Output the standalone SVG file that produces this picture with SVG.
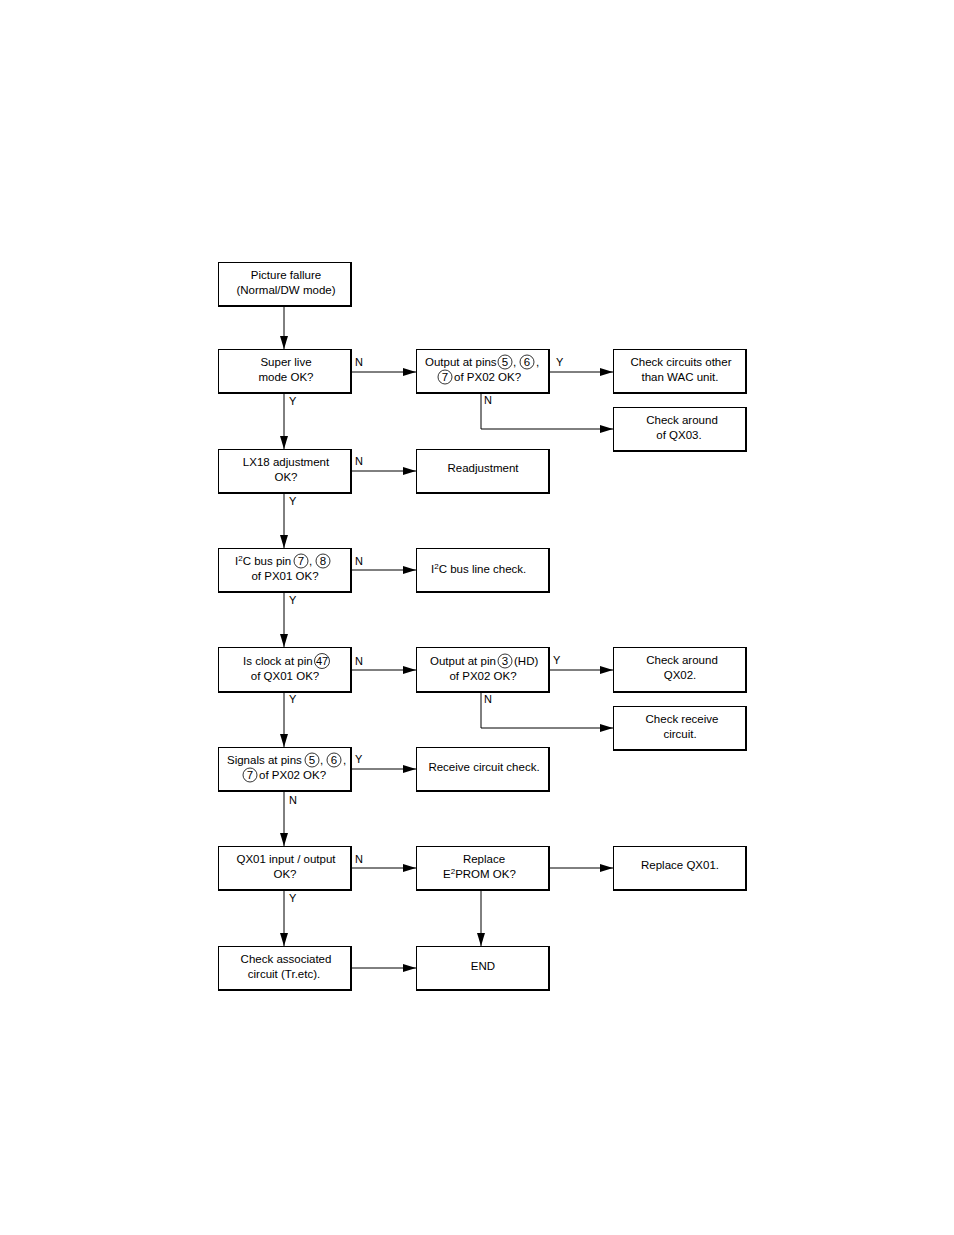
<svg xmlns="http://www.w3.org/2000/svg" width="954" height="1235" viewBox="0 0 954 1235">
<style>
text{font-family:"Liberation Sans",Arial,sans-serif;font-size:11.5px;fill:#000}
.c{text-anchor:middle}
.lb{font-size:11px}
.sp{font-size:8px}
.bx{fill:#fff;stroke:#000;stroke-width:1}
.sh{fill:none;stroke:#000;stroke-width:2}
.ci{fill:none;stroke:#000;stroke-width:0.8}
.ln{fill:none;stroke:#000;stroke-width:1}
</style>
<defs>
<marker id="ah" markerUnits="userSpaceOnUse" markerWidth="13" markerHeight="8" refX="13" refY="4" orient="auto">
<path d="M0,0 L13,4 L0,8 z" fill="#000"/>
</marker>
</defs>
<rect width="954" height="1235" fill="#fff"/>

<g id="connectors">
<path class="ln" marker-end="url(#ah)" d="M284 306 V349"/>
<path class="ln" marker-end="url(#ah)" d="M284 393 V449"/>
<path class="ln" marker-end="url(#ah)" d="M284 493 V548"/>
<path class="ln" marker-end="url(#ah)" d="M284 592 V647"/>
<path class="ln" marker-end="url(#ah)" d="M284 692 V747"/>
<path class="ln" marker-end="url(#ah)" d="M284 791 V846"/>
<path class="ln" marker-end="url(#ah)" d="M284 890 V946"/>
<path class="ln" marker-end="url(#ah)" d="M351 372 H416"/>
<path class="ln" marker-end="url(#ah)" d="M549 372 H613"/>
<path class="ln" marker-end="url(#ah)" d="M481 393 V429 H613"/>
<path class="ln" marker-end="url(#ah)" d="M351 471 H416"/>
<path class="ln" marker-end="url(#ah)" d="M351 570 H416"/>
<path class="ln" marker-end="url(#ah)" d="M351 670 H416"/>
<path class="ln" marker-end="url(#ah)" d="M549 670 H613"/>
<path class="ln" marker-end="url(#ah)" d="M481 692 V728 H613"/>
<path class="ln" marker-end="url(#ah)" d="M351 769 H416"/>
<path class="ln" marker-end="url(#ah)" d="M351 868 H416"/>
<path class="ln" marker-end="url(#ah)" d="M549 868 H613"/>
<path class="ln" marker-end="url(#ah)" d="M481 890 V946"/>
<path class="ln" marker-end="url(#ah)" d="M351 968 H416"/>
<text class="lb" x="355" y="366">N</text>
<text class="lb" x="556" y="366">Y</text>
<text class="lb" x="289" y="405">Y</text>
<text class="lb" x="484" y="404">N</text>
<text class="lb" x="355" y="465">N</text>
<text class="lb" x="289" y="505">Y</text>
<text class="lb" x="355" y="565">N</text>
<text class="lb" x="289" y="604">Y</text>
<text class="lb" x="355" y="665">N</text>
<text class="lb" x="553" y="664">Y</text>
<text class="lb" x="289" y="703">Y</text>
<text class="lb" x="484" y="703">N</text>
<text class="lb" x="355" y="763">Y</text>
<text class="lb" x="289" y="804">N</text>
<text class="lb" x="355" y="863">N</text>
<text class="lb" x="289" y="902">Y</text>
</g>

<g id="n1"><rect class="bx" x="218.5" y="262.5" width="132" height="43"/><path class="sh" d="M351 262 V306 H218"/>
<text class="c" x="286" y="279">Picture fallure</text><text class="c" x="286" y="294">(Normal/DW mode)</text></g>

<g id="n2"><rect class="bx" x="218.5" y="349.5" width="132" height="43"/><path class="sh" d="M351 349 V393 H218"/>
<text class="c" x="286" y="366">Super live</text><text class="c" x="286" y="381">mode OK?</text></g>

<g id="n3"><rect class="bx" x="416.5" y="349.5" width="132" height="43"/><path class="sh" d="M549 349 V393 H416"/>
<text x="425" y="366">Output at pins</text>
<circle class="ci" cx="505" cy="362" r="7"/><text class="c" x="505" y="366">5</text>
<text x="513" y="366">,</text>
<circle class="ci" cx="527" cy="362" r="7"/><text class="c" x="527" y="366">6</text>
<text x="536" y="366">,</text>
<circle class="ci" cx="445" cy="377" r="7"/><text class="c" x="445" y="381">7</text>
<text x="454" y="381">of PX02 OK?</text></g>

<g id="n4"><rect class="bx" x="613.5" y="349.5" width="132" height="43"/><path class="sh" d="M746 349 V393 H613"/>
<text class="c" x="681" y="366">Check circuits other</text><text class="c" x="680" y="381">than WAC unit.</text></g>

<g id="n5"><rect class="bx" x="613.5" y="407.5" width="132" height="43"/><path class="sh" d="M746 407 V451 H613"/>
<text class="c" x="682" y="424">Check around</text><text class="c" x="679" y="439">of QX03.</text></g>

<g id="n6"><rect class="bx" x="218.5" y="449.5" width="132" height="43"/><path class="sh" d="M351 449 V493 H218"/>
<text class="c" x="286" y="466">LX18 adjustment</text><text class="c" x="286" y="481">OK?</text></g>

<g id="n7"><rect class="bx" x="416.5" y="449.5" width="132" height="43"/><path class="sh" d="M549 449 V493 H416"/>
<text class="c" x="483" y="472">Readjustment</text></g>

<g id="n8"><rect class="bx" x="218.5" y="548.5" width="132" height="43"/><path class="sh" d="M351 548 V592 H218"/>
<text x="235" y="565">I<tspan class="sp" dy="-4">2</tspan><tspan dy="4">C bus pin</tspan></text>
<circle class="ci" cx="301" cy="561" r="7"/><text class="c" x="301" y="565">7</text>
<text x="309" y="565">,</text>
<circle class="ci" cx="323" cy="561" r="7"/><text class="c" x="323" y="565">8</text>
<text class="c" x="285" y="580">of PX01 OK?</text></g>

<g id="n9"><rect class="bx" x="416.5" y="548.5" width="132" height="43"/><path class="sh" d="M549 548 V592 H416"/>
<text x="431" y="573">I<tspan class="sp" dy="-4">2</tspan><tspan dy="4">C bus line check.</tspan></text></g>

<g id="n10"><rect class="bx" x="218.5" y="647.5" width="132" height="44"/><path class="sh" d="M351 647 V692 H218"/>
<text x="243" y="665">Is clock at pin</text>
<circle class="ci" cx="322" cy="661" r="7.5"/><text class="c" x="322" y="665" style="font-size:11px">47</text>
<text class="c" x="285" y="680">of QX01 OK?</text></g>

<g id="n11"><rect class="bx" x="416.5" y="647.5" width="132" height="44"/><path class="sh" d="M549 647 V692 H416"/>
<text x="430" y="665">Output at pin</text>
<circle class="ci" cx="505" cy="661" r="7"/><text class="c" x="505" y="665">3</text>
<text x="514" y="665">(HD)</text>
<text class="c" x="483" y="680">of PX02 OK?</text></g>

<g id="n12"><rect class="bx" x="613.5" y="647.5" width="132" height="44"/><path class="sh" d="M746 647 V692 H613"/>
<text class="c" x="682" y="664">Check around</text><text class="c" x="680" y="679">QX02.</text></g>

<g id="n13"><rect class="bx" x="613.5" y="706.5" width="132" height="43"/><path class="sh" d="M746 706 V750 H613"/>
<text class="c" x="682" y="723">Check receive</text><text class="c" x="680" y="738">circuit.</text></g>

<g id="n14"><rect class="bx" x="218.5" y="747.5" width="132" height="43"/><path class="sh" d="M351 747 V791 H218"/>
<text x="227" y="764">Signals at pins</text>
<circle class="ci" cx="312" cy="760" r="7"/><text class="c" x="312" y="764">5</text>
<text x="320" y="764">,</text>
<circle class="ci" cx="334" cy="760" r="7"/><text class="c" x="334" y="764">6</text>
<text x="343" y="764">,</text>
<circle class="ci" cx="250" cy="775" r="7"/><text class="c" x="250" y="779">7</text>
<text x="259" y="779">of PX02 OK?</text></g>

<g id="n15"><rect class="bx" x="416.5" y="747.5" width="132" height="43"/><path class="sh" d="M549 747 V791 H416"/>
<text class="c" x="484" y="771">Receive circuit check.</text></g>

<g id="n16"><rect class="bx" x="218.5" y="846.5" width="132" height="43"/><path class="sh" d="M351 846 V890 H218"/>
<text class="c" x="286" y="863">QX01 input / output</text><text class="c" x="285" y="878">OK?</text></g>

<g id="n17"><rect class="bx" x="416.5" y="846.5" width="132" height="43"/><path class="sh" d="M549 846 V890 H416"/>
<text class="c" x="484" y="863">Replace</text><text x="443" y="878">E<tspan class="sp" dy="-4">2</tspan><tspan dy="4">PROM OK?</tspan></text></g>

<g id="n18"><rect class="bx" x="613.5" y="846.5" width="132" height="43"/><path class="sh" d="M746 846 V890 H613"/>
<text class="c" x="680" y="869">Replace QX01.</text></g>

<g id="n19"><rect class="bx" x="218.5" y="946.5" width="132" height="43"/><path class="sh" d="M351 946 V990 H218"/>
<text class="c" x="286" y="963">Check associated</text><text class="c" x="284" y="978">circuit (Tr.etc).</text></g>

<g id="n20"><rect class="bx" x="416.5" y="946.5" width="132" height="43"/><path class="sh" d="M549 946 V990 H416"/>
<text class="c" x="483" y="970">END</text></g>
</svg>
